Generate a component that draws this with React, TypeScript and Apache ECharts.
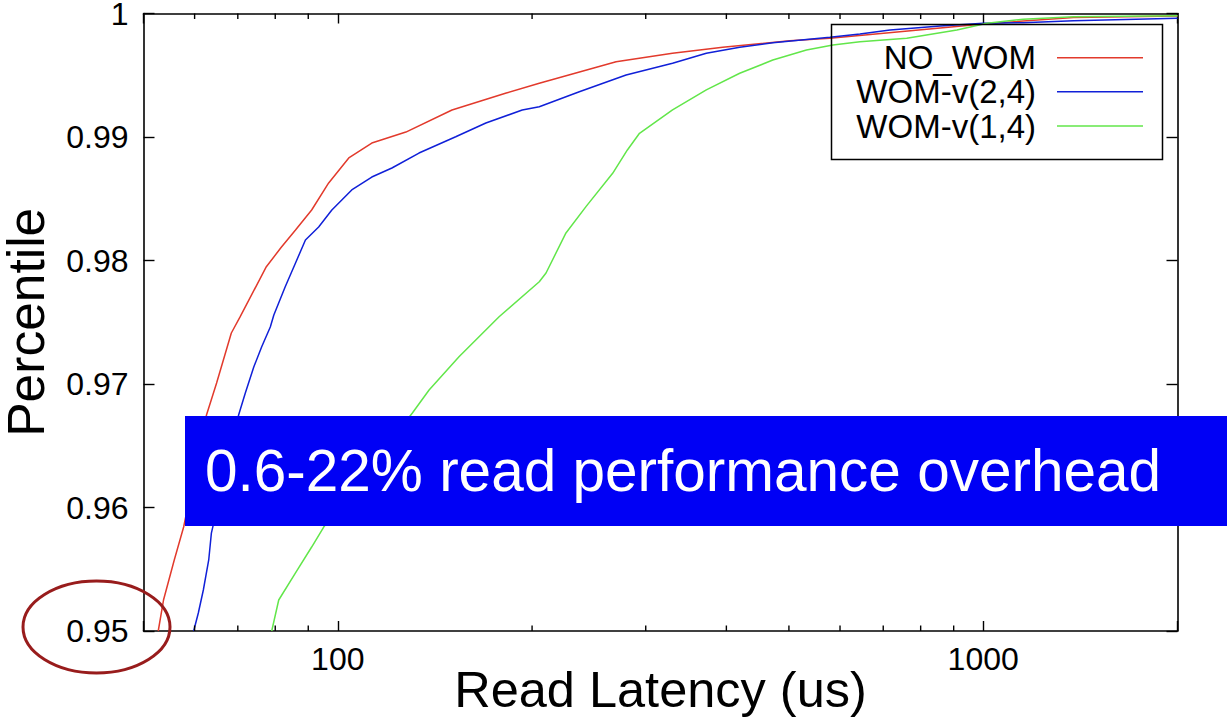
import React, { useEffect, useRef } from "react";
import * as echarts from "echarts";

// [read latency (us), percentile]
const noWom: number[][] = [
  [52.7, 0.95], [53.7, 0.95251], [55.8, 0.95575], [57.7, 0.95842], [62.6, 0.96749],
  [64.9, 0.97008], [68.4, 0.97413], [70.6, 0.97545], [77.5, 0.9795], [81.8, 0.98109],
  [86.0, 0.98247], [91.1, 0.98409], [96.8, 0.98628], [104.0, 0.9883], [112.9, 0.98951],
  [127.5, 0.9904], [150.3, 0.99219], [182.4, 0.99356], [205.2, 0.99435], [269.9, 0.9961],
  [330, 0.99678], [394.8, 0.99726], [501.5, 0.9978], [578.7, 0.99799], [857.5, 0.99883],
  [1000, 0.99915], [1380, 0.99968], [2000, 0.9998],
];

const womV24: number[][] = [
  [59.8, 0.95], [60.8, 0.95146], [61.9, 0.95332], [63.1, 0.95575], [63.7, 0.95793],
  [70.2, 0.96749], [71.9, 0.96927], [74.1, 0.97137], [76.2, 0.973], [78.6, 0.97462],
  [79.6, 0.97559], [82.9, 0.97788], [86.0, 0.9798], [89.1, 0.98166], [93.4, 0.98271],
  [97.9, 0.98409], [105.1, 0.98571], [112.9, 0.98676], [121.3, 0.98749], [133.6, 0.9887],
  [152.3, 0.99002], [169.6, 0.99113], [193.1, 0.99219], [205.2, 0.99245], [236.7, 0.99367],
  [279.7, 0.99502], [330.1, 0.99597], [372.4, 0.99678], [419.5, 0.99726], [472.1, 0.99764],
  [578.7, 0.99807], [644.2, 0.99834], [717.3, 0.99866], [857.5, 0.99899], [1000, 0.99921],
  [1153, 0.99926], [1380, 0.99942], [2000, 0.99961],
];

const womV14: number[][] = [
  [79.0, 0.95], [81.0, 0.95251], [86.0, 0.9547], [91.1, 0.9568], [95.1, 0.95842],
  [130.4, 0.96763], [138.5, 0.96951], [154.1, 0.97221], [177.8, 0.97545], [205.2, 0.97828],
  [210.2, 0.97899], [225.7, 0.98223], [242.4, 0.98436], [266.6, 0.98706], [281.0, 0.98895],
  [293.4, 0.9903], [330.1, 0.99219], [372.4, 0.99381], [419.5, 0.99516], [472.1, 0.99623],
  [532.3, 0.99704], [584.9, 0.99745], [644.2, 0.99772], [761.2, 0.99799], [910.4, 0.99866],
  [1013.5, 0.99921], [1153, 0.99953], [1380, 0.99974], [2000, 0.99982],
];

const seriesNames = ["NO_WOM", "WOM-v(2,4)", "WOM-v(1,4)"];
const seriesColors = ["#e23a2c", "#1020d8", "#62e64a"];
const minorTicks = [60, 70, 80, 90, 200, 300, 400, 500, 600, 700, 800, 900];
const majorXLabels = [100, 1000];
const annotationText = "0.6-22% read performance overhead";

const FONT = "'Liberation Sans', Arial, Helvetica, sans-serif";

export default function App() {
  const ref = useRef<HTMLDivElement>(null);

  useEffect(() => {
    if (!ref.current) return;
    const chart = echarts.init(ref.current, undefined, { renderer: "svg" });

    const axisLine = { show: true, lineStyle: { color: "#000", width: 1.6 } };
    const tick = (len: number) => ({ show: true, inside: true, length: len, lineStyle: { color: "#000", width: 1.4 } });

    const legendRows = [57.7, 91.7, 126];

    const graphics: any[] = [
      {
        type: "rect",
        z: 100,
        shape: { x: 831.5, y: 24.5, width: 331, height: 135 },
        style: { fill: "none", stroke: "#000", lineWidth: 1.5 },
      },
    ];
    seriesNames.forEach((n, i) => {
      graphics.push({
        type: "text",
        z: 100,
        x: 1036,
        y: legendRows[i],
        style: { text: n, fontSize: 33, fontFamily: FONT, fill: "#000", align: "right", verticalAlign: "middle" },
      });
      graphics.push({
        type: "line",
        z: 100,
        shape: { x1: 1057, y1: legendRows[i], x2: 1143, y2: legendRows[i] },
        style: { stroke: seriesColors[i], lineWidth: 1.5 },
      });
    });
    graphics.push({
      type: "rect",
      z: 110,
      shape: { x: 185, y: 416, width: 1042, height: 110 },
      style: { fill: "#0000f5" },
    });
    graphics.push({
      type: "text",
      z: 111,
      x: 205,
      y: 470,
      style: { text: annotationText, fontSize: 58.5, fontFamily: FONT, fill: "#fff", align: "left", verticalAlign: "middle" },
    });
    graphics.push({
      type: "ellipse",
      z: 120,
      shape: { cx: 96.5, cy: 627, rx: 73.5, ry: 46 },
      style: { fill: "none", stroke: "#981c1c", lineWidth: 3 },
    });

    const xLabelFmt = (v: number) => {
      const r = Math.round(v);
      return majorXLabels.includes(r) ? String(r) : "";
    };

    const option: any = {
      animation: false,
      backgroundColor: "#fff",
      grid: {
        left: 143.5,
        right: 49.5,
        top: 13.5,
        bottom: 87,
        show: false,
        containLabel: false,
        outerBoundsMode: "none",
      },
      xAxis: [
        {
          type: "log",
          logBase: 10,
          min: 50,
          max: 2000,
          position: "bottom",
          axisLine,
          axisTick: tick(10),
          splitLine: { show: false },
          axisLabel: { formatter: xLabelFmt, fontSize: 32, fontFamily: FONT, color: "#000", margin: 12 },
          name: "Read Latency (us)",
          nameLocation: "middle",
          nameGap: 34,
          nameMoveOverlap: false,
          nameTextStyle: { fontSize: 50.5, lineHeight: 48, fontFamily: FONT, color: "#000", verticalAlign: "top" },
        },
        {
          type: "log",
          logBase: 10,
          min: 50,
          max: 2000,
          position: "top",
          axisLine,
          axisTick: tick(10),
          splitLine: { show: false },
          axisLabel: { show: false },
        },
      ],
      yAxis: [
        {
          type: "value",
          min: 0.95,
          max: 1,
          interval: 0.01,
          position: "left",
          axisLine,
          axisTick: tick(11),
          splitLine: { show: false },
          axisLabel: {
            formatter: (v: number) => (Math.abs(v - 1) < 1e-9 ? "1" : v.toFixed(2)),
            fontSize: 32,
            lineHeight: 24,
            fontFamily: FONT,
            color: "#000",
            margin: 15,
          },
          name: "Percentile",
          nameLocation: "middle",
          nameGap: 96,
          nameRotate: 90,
          nameTextStyle: { fontSize: 51.5, lineHeight: 44, fontFamily: FONT, color: "#000" },
        },
        {
          type: "value",
          min: 0.95,
          max: 1,
          interval: 0.01,
          position: "right",
          axisLine,
          axisTick: tick(11),
          splitLine: { show: false },
          axisLabel: { show: false },
        },
      ],
      series: [
        ...[noWom, womV24, womV14].map((d, i) => ({
          name: seriesNames[i],
          type: "line",
          data: d,
          xAxisIndex: 0,
          yAxisIndex: 0,
          showSymbol: false,
          symbol: "none",
          smooth: false,
          lineStyle: { color: seriesColors[i], width: 1.5 },
          itemStyle: { color: seriesColors[i] },
          z: 3,
        })),
        {
          type: "custom",
          xAxisIndex: 0,
          yAxisIndex: 0,
          clip: false,
          silent: true,
          data: minorTicks.map((v) => [v, 0.95]),
          renderItem: (params: any, api: any) => {
            const v = api.value(0);
            const b = api.coord([v, 0.95]);
            const t = api.coord([v, 1]);
            const st = { stroke: "#000", lineWidth: 1.4 };
            return {
              type: "group",
              children: [
                { type: "line", shape: { x1: b[0], y1: b[1], x2: b[0], y2: b[1] - 5.5 }, style: st },
                { type: "line", shape: { x1: t[0], y1: t[1], x2: t[0], y2: t[1] + 5.5 }, style: st },
              ],
            };
          },
          z: 4,
        },
      ],
      graphic: graphics,
    };

    chart.setOption(option);
    return () => {
      chart.dispose();
    };
  }, []);

  return (
    <div
      ref={ref}
      style={{ position: "absolute", left: 0, top: 0, width: 1227, height: 718, background: "#fff" }}
    />
  );
}
